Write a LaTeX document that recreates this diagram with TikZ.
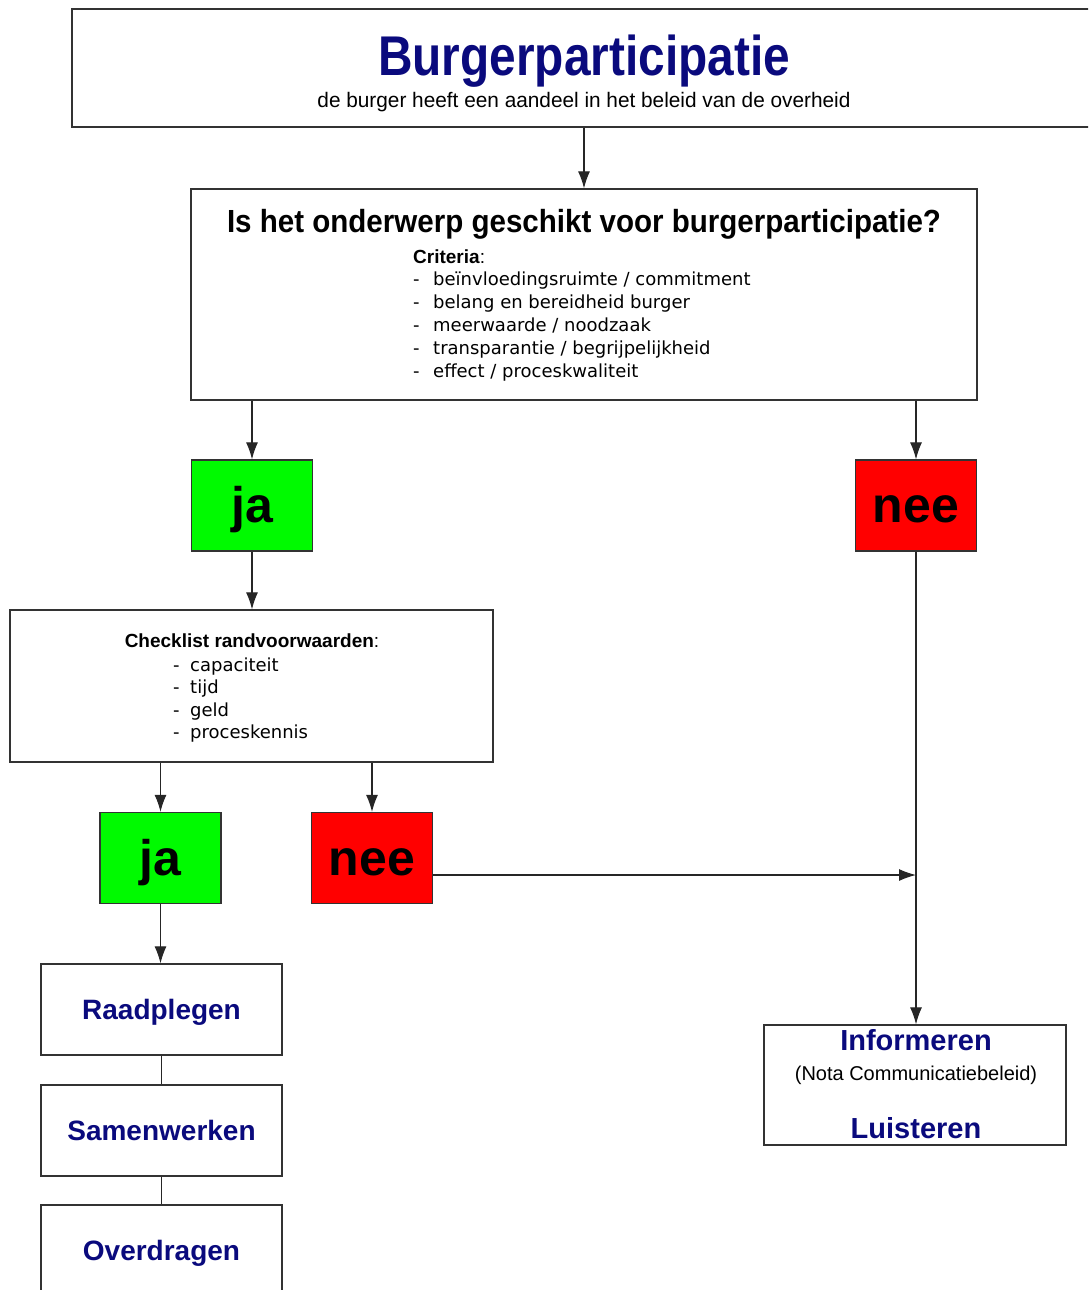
\documentclass[tikz,border=0pt]{standalone}
\usepackage{fontspec}
\setmainfont{Liberation Sans}
\newfontfamily\listfont{DejaVu Sans}
\usepackage{graphicx}
\usetikzlibrary{arrows.meta,calc}
\definecolor{titleblue}{RGB}{10,10,125}
\definecolor{jagreen}{RGB}{0,250,0}
\definecolor{neered}{RGB}{255,0,0}
\newcommand{\fitw}[2]{\resizebox{#1}{\height}{#2}}

\begin{document}
\begin{tikzpicture}[x=1pt,y=-1pt,
    line/.style={draw=black!85, line width=1.1pt},
    arr/.style={line, -{Latex[length=17pt,width=12pt]}},
    box/.style={draw=black!80, line width=1.3pt, inner sep=0pt},
    answer/.style={box, minimum width=121, minimum height=91, text height=34, text depth=0,
      font=\fontsize{50}{50}\selectfont\bfseries},
    formbox/.style={box, minimum width=241, minimum height=91, text height=20, text depth=0,
      text=titleblue, font=\fontsize{28}{28}\selectfont\bfseries},
    label/.style={anchor=base, inner sep=0pt},
    item/.style={anchor=base west, inner sep=0pt, font=\listfont\fontsize{18}{18}\selectfont},
  ]
  \clip (0,0) rectangle (1088,1290);

  % header
  \node[box, minimum width=1024, minimum height=118] (head) at (584,68) {};
  \node[label, text=titleblue, font=\fontsize{56}{56}\selectfont\bfseries] (ttl) at (584,75)
    {\fitw{412pt}{Burgerparticipatie}};
  \node[label, font=\fontsize{21}{21}\selectfont] (sub) at (584,107)
    {\fitw{533pt}{de burger heeft een aandeel in het beleid van de overheid}};

  % question with criteria
  \node[box, minimum width=786, minimum height=211] (vraag) at (584,294.5) {};
  \node[label, font=\fontsize{32}{32}\selectfont\bfseries] (vtxt) at (584,232)
    {\fitw{714pt}{Is het onderwerp geschikt voor burgerparticipatie?}};
  \node[label, anchor=base west, font=\fontsize{19}{19}\selectfont] (crit) at (413,263)
    {\textbf{Criteria}:};
  \foreach \txt [count=\i] in {beïnvloedingsruimte / commitment, belang en bereidheid burger,
      meerwaarde / noodzaak, transparantie / begrijpelijkheid, effect / proceskwaliteit} {
    \node[item] (crit-\i-dash) at (413,262+23*\i) {-};
    \node[item] (crit-\i) at (433,262+23*\i) {\txt};
  }

  \node[answer, fill=jagreen] (ja1) at (252,505.5) {ja};
  \node[answer, fill=neered] (nee1) at (916,505.5) {nee};

  % checklist
  \node[box, minimum width=483, minimum height=152] (check) at (251.5,686) {};
  \node[label, font=\fontsize{19}{19}\selectfont] (ctxt) at (252,647)
    {\textbf{Checklist randvoorwaarden}:};
  \foreach \txt [count=\i] in {capaciteit, tijd, geld, proceskennis} {
    \node[item] (cl-\i-dash) at (173,649+22.4*\i) {-};
    \node[item] (cl-\i) at (190,649+22.4*\i) {\txt};
  }

  \node[answer, fill=jagreen] (ja2) at (160.5,858) {ja};
  \node[answer, fill=neered] (nee2) at (372,858) {nee};
  \coordinate (join) at (916,875);

  % forms of participation
  \node[formbox] (raad) at (161.5,1009.5) {Raadplegen};
  \node[formbox] (samen) at (161.5,1130.5) {Samenwerken};
  \node[formbox] (over) at (161.5,1250.5) {Overdragen};

  \node[box, minimum width=302, minimum height=120] (info) at (915,1085) {};
  \node[label, text=titleblue, font=\fontsize{29}{29}\selectfont\bfseries] (itxt) at (916,1050)
    {Informeren};
  \node[label, font=\fontsize{20}{20}\selectfont] (nota) at (916,1080)
    {(Nota Communicatiebeleid)};
  \node[label, text=titleblue, font=\fontsize{29}{29}\selectfont\bfseries] (ltxt) at (916,1138)
    {Luisteren};

  % connectors
  \draw[arr] (head) -- (vraag);
  \draw[arr] (vraag.south -| ja1) -- (ja1);
  \draw[arr] (vraag.south -| nee1) -- (nee1);
  \draw[arr] (ja1) -- (ja1 |- check.north);
  \draw[arr] (check.south -| ja2) -- (ja2);
  \draw[arr] (check.south -| nee2) -- (nee2);
  \draw[arr] (join -| nee2.east) -- (join);
  \draw[arr] (nee1) -- (nee1 |- info.north);
  \draw[arr] (ja2) -- (ja2 |- raad.north);
  \draw[line] (raad) -- (samen);
  \draw[line] (samen) -- (over);
\end{tikzpicture}
\end{document}
